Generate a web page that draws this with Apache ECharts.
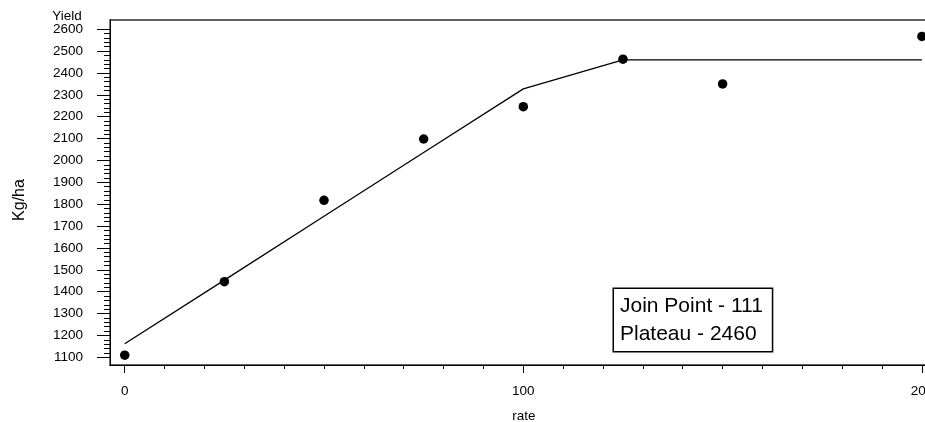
<!DOCTYPE html>
<html>
<head>
<meta charset="utf-8">
<script src="https://cdn.jsdelivr.net/npm/echarts@6/dist/echarts.min.js"></script>
<style>
html,body{margin:0;padding:0;background:#fff;}
#chart{width:925px;height:422px;}
</style>
</head>
<body>
<div id="chart"></div>
<script>
// ---- data ----
const rates = [0, 25, 50, 75, 100, 125, 150, 200];
const yields = [1110, 1446, 1818, 2098, 2246, 2463, 2350, 2567];
const fitRates = [0, 25, 50, 75, 100, 125, 150, 200];
const fitYields = [1162, 1453, 1745, 2036, 2327, 2460, 2460, 2460];
const yMajorTicks = [1100, 1200, 1300, 1400, 1500, 1600, 1700, 1800, 1900, 2000, 2100, 2200, 2300, 2400, 2500, 2600];
const xMajorTicks = [0, 100, 200];
const xLabel = 'rate';
const yLabel = 'Kg/ha';
const yTopLabel = 'Yield';
const boxLines = ['Join Point - 111', 'Plateau - 2460'];

// minor tick positions
const yMinorTicks = [];
for (let v = 1100; v <= 2600; v += 20) yMinorTicks.push(v);
const xMinorTicks = [];
for (let v = 0; v <= 200; v += 10) xMinorTicks.push(v);

const FONT = 'Liberation Sans';
const X_MIN = -3.69, X_MAX = 205, Y_MIN = 1065, Y_MAX = 2642;
const PX_PER_X = 3.986;

const chart = echarts.init(document.getElementById('chart'), null, {renderer: 'canvas'});

const baseX = {
  type: 'value', position: 'bottom', min: X_MIN, max: X_MAX,
  splitLine: {show: false},
  axisLine: {show: true, onZero: false, lineStyle: {color: '#000', width: 1}}
};
const baseY = {
  type: 'value', position: 'left', min: Y_MIN, max: Y_MAX,
  splitLine: {show: false},
  axisLine: {show: true, onZero: false, lineStyle: {color: '#000', width: 1}}
};

chart.setOption({
  animation: false,
  backgroundColor: '#fff',
  grid: {
    left: 110, top: 20, width: (X_MAX - X_MIN) * PX_PER_X, height: 345,
    containLabel: false, outerBoundsMode: 'none',
    show: true, borderColor: '#333', borderWidth: 1.3, backgroundColor: 'transparent'
  },
  xAxis: [
    Object.assign({}, baseX, {
      axisTick: {show: true, length: 4, customValues: xMinorTicks, lineStyle: {color: '#000'}},
      axisLabel: {show: false}
    }),
    Object.assign({}, baseX, {
      axisTick: {show: true, length: 8, customValues: xMajorTicks, lineStyle: {color: '#000'}},
      axisLabel: {show: true, customValues: xMajorTicks, margin: 19, color: '#000', fontSize: 13.5, fontFamily: FONT,
                  formatter: v => String(v), showMinLabel: true, showMaxLabel: true, hideOverlap: false}
    })
  ],
  yAxis: [
    Object.assign({}, baseY, {
      axisTick: {show: true, length: 6, customValues: yMinorTicks, lineStyle: {color: '#000'}},
      axisLabel: {show: false}
    }),
    Object.assign({}, baseY, {
      axisTick: {show: true, length: 13, customValues: yMajorTicks, lineStyle: {color: '#000'}},
      axisLabel: {show: true, customValues: yMajorTicks, margin: 27, color: '#000', fontSize: 13.5, fontFamily: FONT,
                  formatter: v => String(v), showMinLabel: true, showMaxLabel: true, hideOverlap: false}
    })
  ],
  series: [
    {
      type: 'line', xAxisIndex: 0, yAxisIndex: 0,
      data: fitRates.map((r, i) => [r, fitYields[i]]),
      showSymbol: false, symbol: 'none',
      lineStyle: {color: '#000', width: 1.3},
      z: 2
    },
    {
      type: 'scatter', xAxisIndex: 0, yAxisIndex: 0,
      data: rates.map((r, i) => [r, yields[i]]),
      symbol: 'circle', symbolSize: 9.5,
      itemStyle: {color: '#000', opacity: 1},
      z: 3
    }
  ],
  graphic: [
    {type: 'text', x: 67, y: 16, style: {text: yTopLabel, fontSize: 13.5, fontFamily: FONT, fill: '#000', align: 'center', verticalAlign: 'middle'}},
    {type: 'text', x: 20, y: 200, rotation: Math.PI / 2,
     style: {text: yLabel, fontSize: 16, fontFamily: FONT, fill: '#000', align: 'center', verticalAlign: 'middle'}},
    {type: 'text', x: 524, y: 416, style: {text: xLabel, fontSize: 13.5, fontFamily: FONT, fill: '#000', align: 'center', verticalAlign: 'middle'}},
    {type: 'text', x: 614, y: 289, z: 10,
     style: {text: boxLines.join('\n'), fontSize: 21, fontFamily: FONT, fill: '#000', lineHeight: 28,
             backgroundColor: '#fff', borderColor: '#000', borderWidth: 1.5, padding: [3, 9, 3, 6]}}
  ]
});
</script>
</body>
</html>
